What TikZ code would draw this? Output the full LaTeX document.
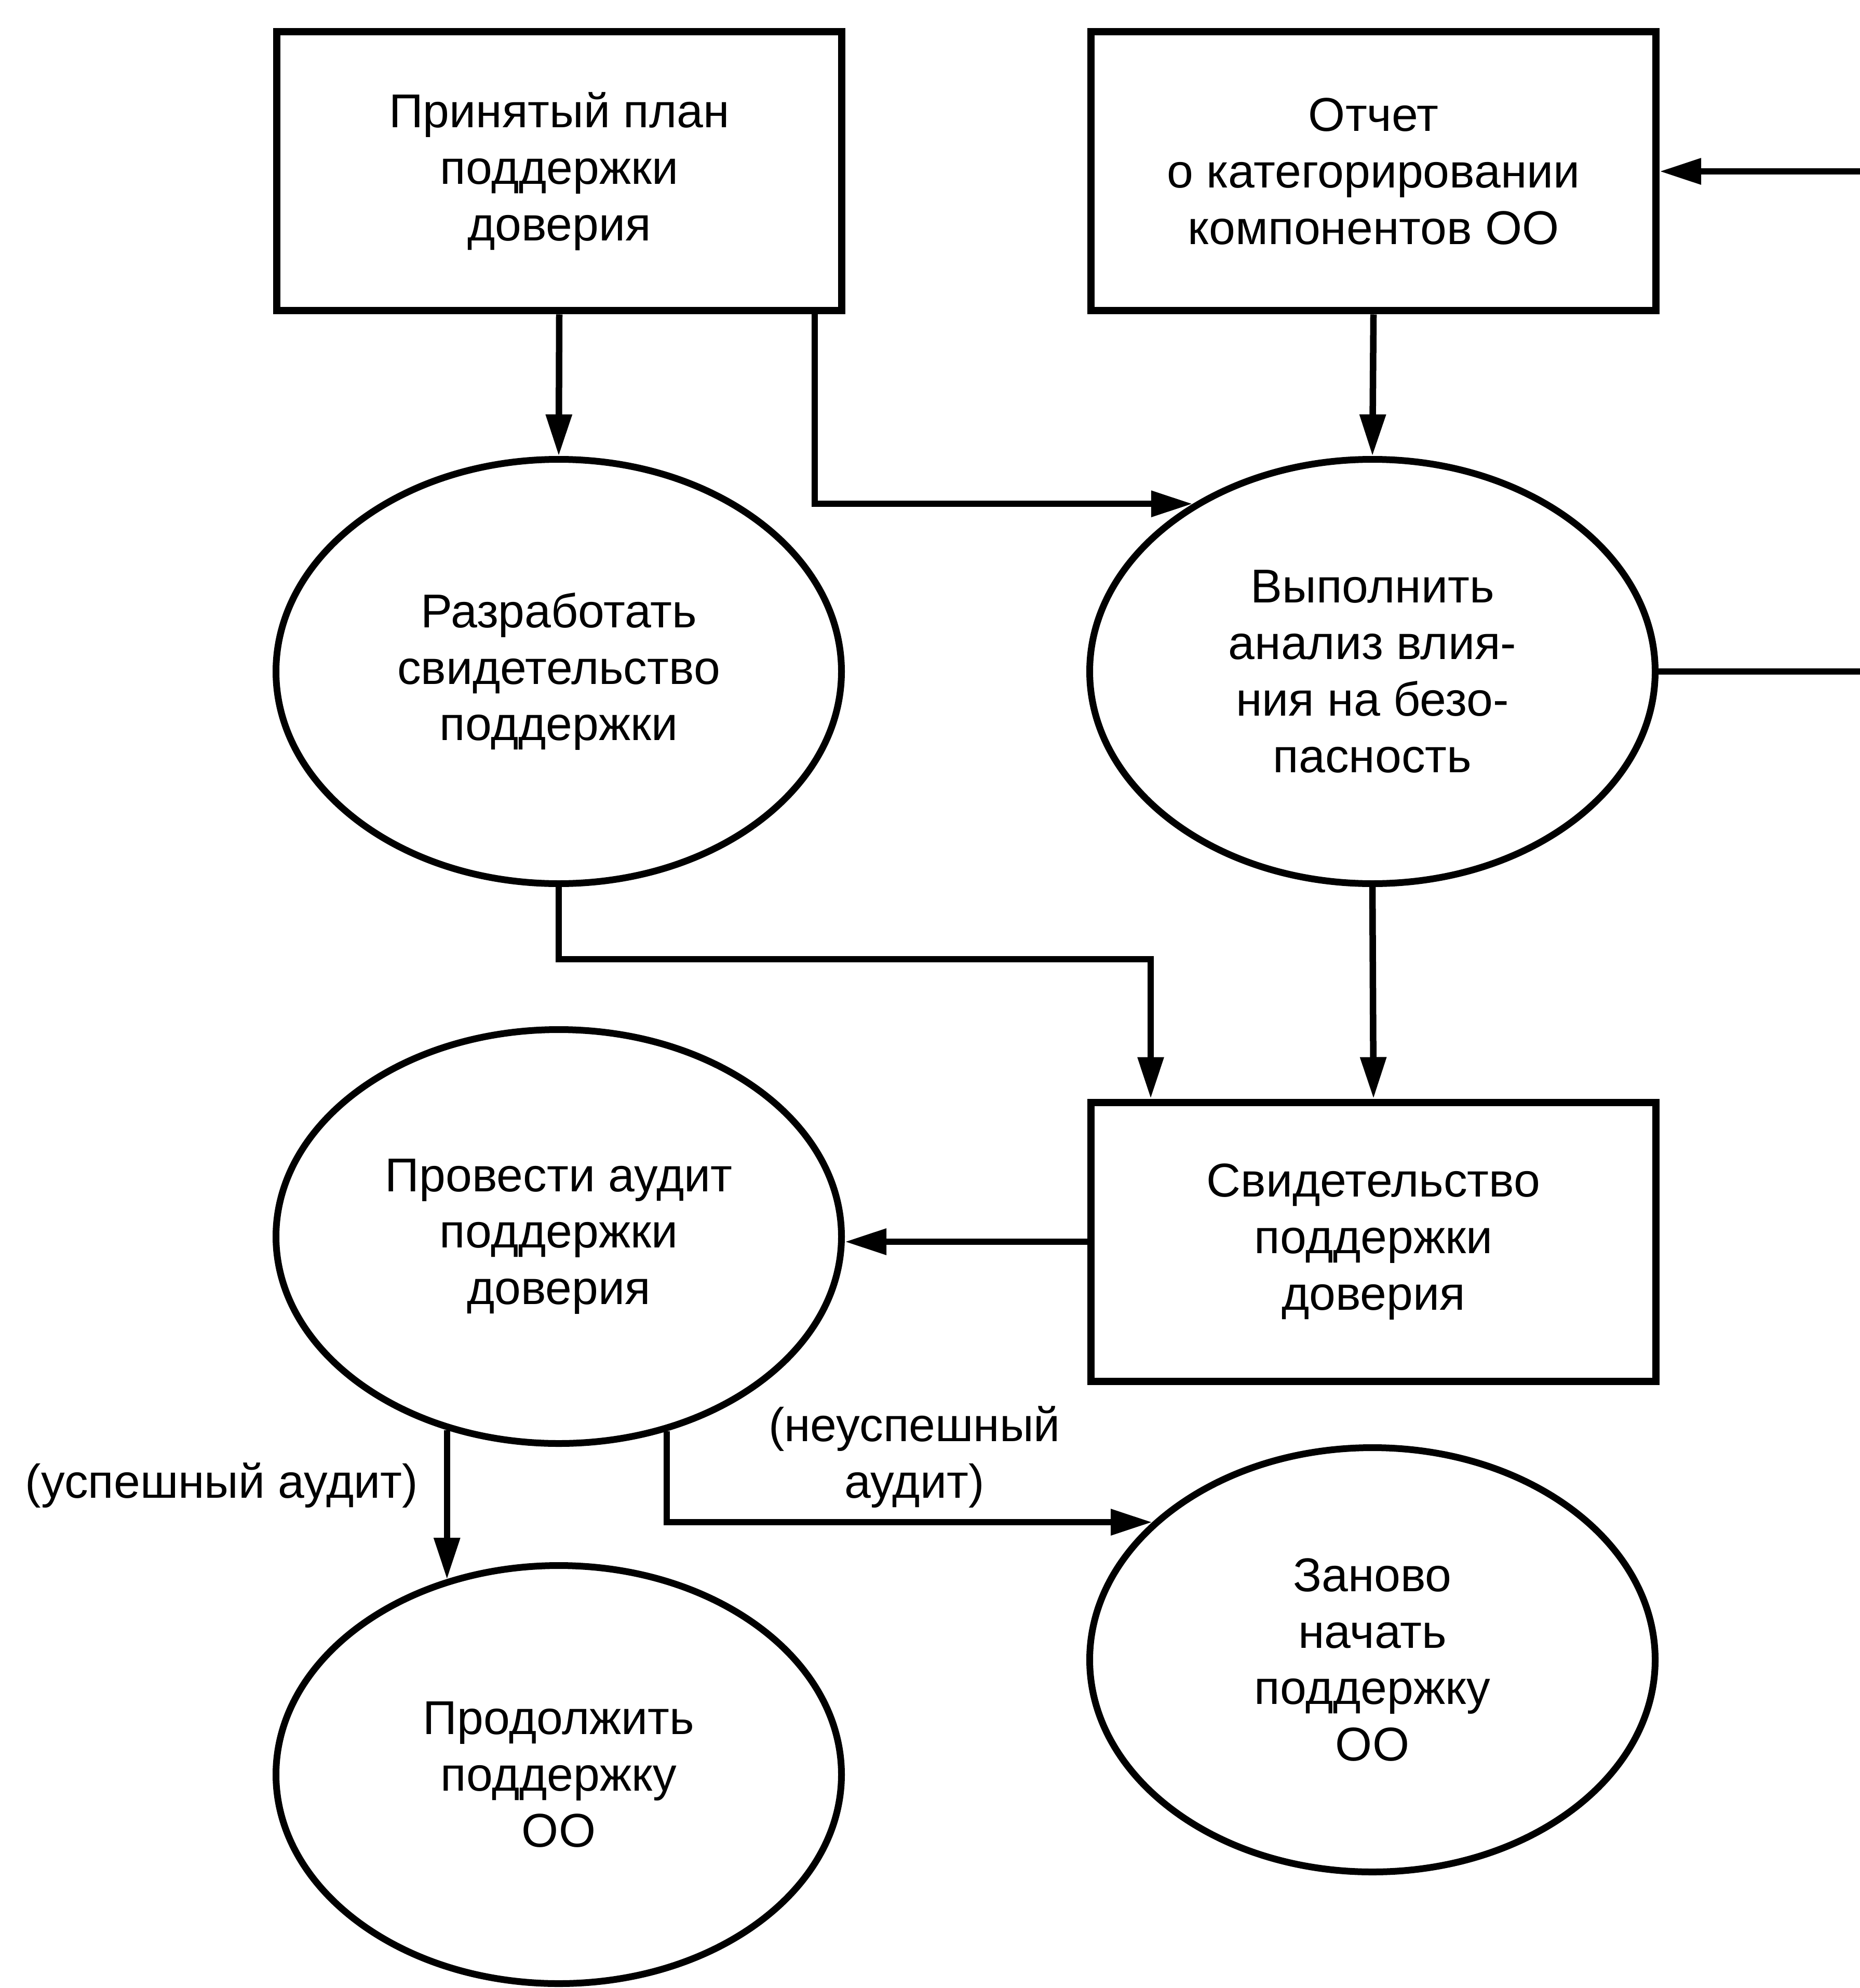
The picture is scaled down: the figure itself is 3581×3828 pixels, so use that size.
\documentclass[tikz,border=0pt]{standalone}
\usepackage{fontspec}
\setmainfont{Liberation Sans}
\usetikzlibrary{arrows.meta,shapes.geometric}
\begin{document}
\begin{tikzpicture}[x=0.1mm,y=-0.1mm,
  txt/.style={align=center,font=\fontsize{26}{31}\selectfont},
  box/.style={txt,draw,line width=1.4mm,minimum width=108.8mm,minimum height=53.7mm,inner sep=0pt},
  oval/.style={txt,ellipse,draw,line width=1.3mm,minimum width=108.9mm,minimum height=81.7mm,inner sep=0pt},
  conn/.style={line width=1.25mm,-{Triangle[length=8mm,width=4.8mm]}},
  lbl/.style={txt}]
\useasboundingbox (0,0) rectangle (3581,3828);
\node[box] (b1) at (1077,330) {Принятый план\\поддержки\\доверия};
\node[box] (b2) at (2645,330) {Отчет\\о категорировании\\компонентов ОО};
\node[oval] (e1) at (1076,1293) {Разработать\\свидетельство\\поддержки};
\node[oval] (e2) at (2643,1293) {Выполнить\\анализ влия-\\ния на безо-\\пасность};
\node[box] (b3) at (2645,2391) {Свидетельство\\поддержки\\доверия};
\node[oval,minimum height=79.7mm] (e3) at (1076,2381) {Провести аудит\\поддержки\\доверия};
\node[oval,minimum height=80.5mm] (e4) at (1076,3417) {Продолжить\\поддержку\\ОО};
\node[oval] (e5) at (2643,3196) {Заново\\начать\\поддержку\\ОО};
\node[lbl] (l1) at (427,2860) {(успешный аудит)};
\node[lbl] (l2) at (1761,2806) {(неуспешный\\аудит)};
\coordinate (p1) at (1569,605);
\coordinate (p2) at (2216,1847);
\coordinate (fb) at (3660,0);
\draw[conn] (b1.south) -- (e1.north);
\draw[conn] (p1) |- (e2.137);
\draw[conn] (b2.south) -- (e2.north);
\draw[conn] (e2.east) -- (e2.east -| fb) -- (b2.east -| fb) -- (b2.east);
\draw[conn] (e1.south) |- (p2) -- (p2 |- b3.north);
\draw[conn] (e2.south) -- (b3.north);
\draw[conn] (b3.west) -- (b3.west -| e3.east);
\draw[conn] (e3.240) -- (e3.240 |- e4.120);
\draw[conn] (e3.299) |- (e5.148.6);
\end{tikzpicture}
\end{document}
